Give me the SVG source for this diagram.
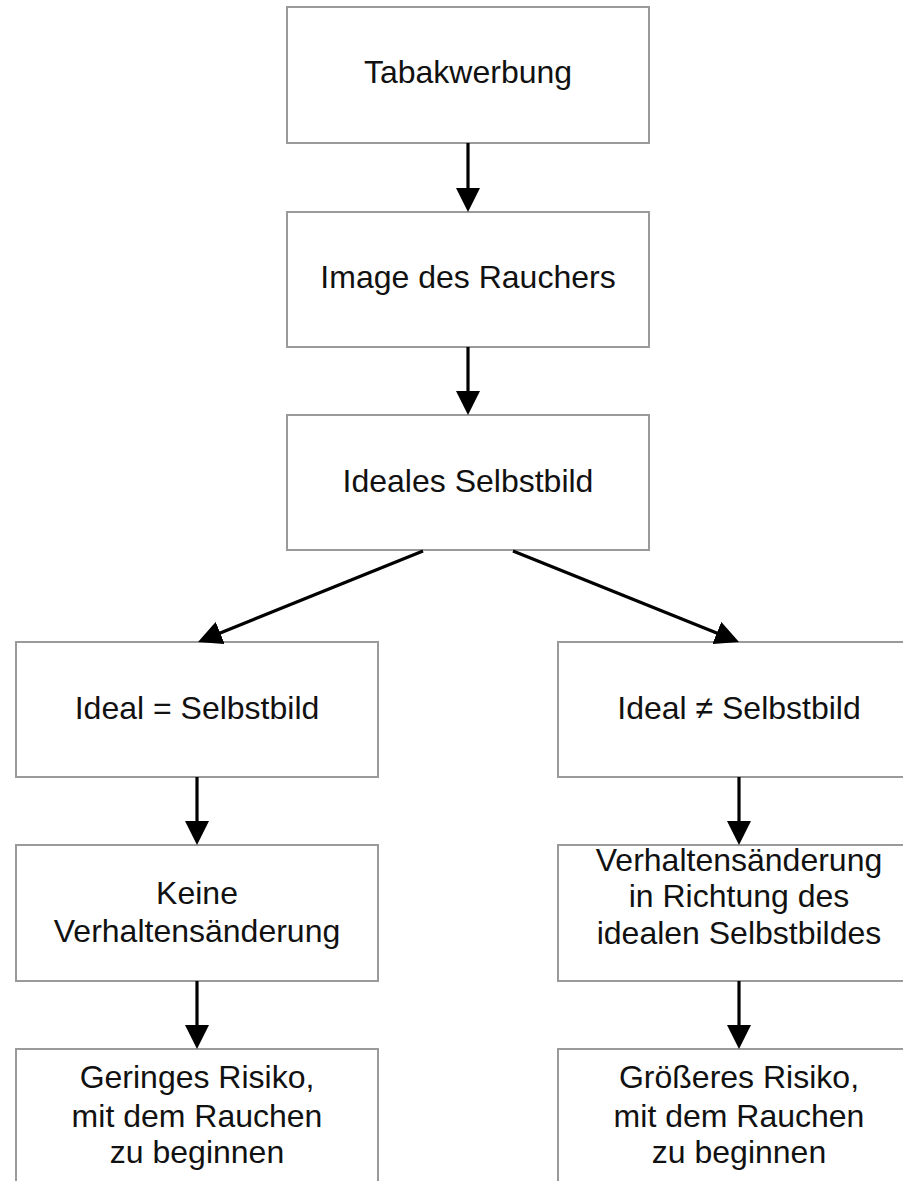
<svg xmlns="http://www.w3.org/2000/svg" width="903" height="1181" viewBox="0 0 903 1181">
<style>
.box{fill:#fff;stroke:#9a9a9a;stroke-width:2}
.t{font-family:"Liberation Sans",Arial,sans-serif;font-size:32px;fill:#111;text-anchor:middle}
.c{stroke:#000;stroke-width:3.2;fill:none;marker-end:url(#ah)}
</style>
<defs>
<marker id="ah" markerUnits="userSpaceOnUse" markerWidth="24" markerHeight="24" refX="12" refY="12" orient="auto" viewBox="0 0 24 24">
<path d="M0,0 L24,12 L0,24 z" fill="#000"/>
</marker>
</defs>
<rect width="903" height="1181" fill="#fff"/>
<g id="n1"><rect class="box" x="287" y="7" width="362" height="136"/><text class="t" x="468" y="83">Tabakwerbung</text></g>
<g id="n2"><rect class="box" x="287" y="212" width="362" height="135"/><text class="t" x="468" y="288">Image des Rauchers</text></g>
<g id="n3"><rect class="box" x="287" y="415" width="362" height="135"/><text class="t" x="468" y="492">Ideales Selbstbild</text></g>
<g id="n4"><rect class="box" x="16" y="642" width="362" height="135"/><text class="t" x="197" y="719">Ideal = Selbstbild</text></g>
<g id="n5"><rect class="box" x="558" y="642" width="362" height="135"/><text class="t" x="739" y="719">Ideal ≠ Selbstbild</text></g>
<g id="n6"><rect class="box" x="16" y="845" width="362" height="136"/><text class="t" x="197" y="904">Keine</text><text class="t" x="197" y="942">Verhaltensänderung</text></g>
<g id="n7"><rect class="box" x="558" y="845" width="362" height="136"/><text class="t" x="739" y="871">Verhaltensänderung</text><text class="t" x="739" y="907">in Richtung des</text><text class="t" x="739" y="944">idealen Selbstbildes</text></g>
<g id="n8"><rect class="box" x="16" y="1049" width="362" height="150"/><text class="t" x="197" y="1088">Geringes Risiko,</text><text class="t" x="197" y="1127">mit dem Rauchen</text><text class="t" x="197" y="1163">zu beginnen</text></g>
<g id="n9"><rect class="box" x="558" y="1049" width="362" height="150"/><text class="t" x="739" y="1088">Größeres Risiko,</text><text class="t" x="739" y="1127">mit dem Rauchen</text><text class="t" x="739" y="1163">zu beginnen</text></g>
<g id="connectors">
<line class="c" x1="468" y1="143" x2="468" y2="200"/>
<line class="c" x1="468" y1="347" x2="468" y2="403"/>
<line class="c" x1="423" y1="551" x2="209.1" y2="637.5"/>
<line class="c" x1="513" y1="551" x2="727.9" y2="637.5"/>
<line class="c" x1="197" y1="777" x2="197" y2="833"/>
<line class="c" x1="739" y1="777" x2="739" y2="833"/>
<line class="c" x1="197" y1="981" x2="197" y2="1037"/>
<line class="c" x1="739" y1="981" x2="739" y2="1037"/>
</g>
</svg>
